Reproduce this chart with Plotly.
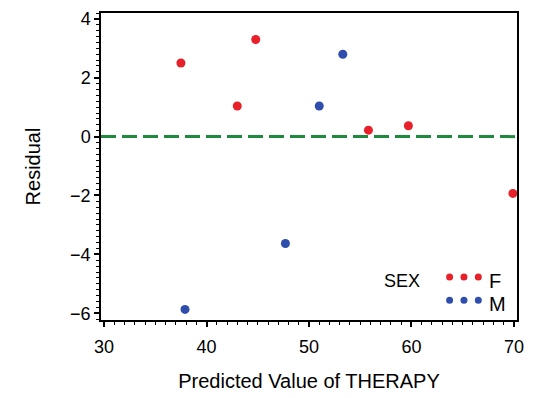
import plotly.graph_objects as go

# Residuals vs predicted THERAPY, grouped by SEX
female_pred = [37.5, 43.0, 44.8, 55.8, 59.7, 69.9]
female_resid = [2.5, 1.04, 3.3, 0.22, 0.37, -1.93]
male_pred = [37.9, 47.7, 51.0, 53.3]
male_resid = [-5.87, -3.63, 1.04, 2.8]

x_ticks = [30, 40, 50, 60, 70]
y_ticks = [-6, -4, -2, 0, 2, 4]

RED = "#E8202A"
BLUE = "#2F4DAD"
GREEN = "#1E8A3E"
FONT = "Liberation Sans, Arial, sans-serif"

fig = go.Figure()

fig.add_trace(go.Scatter(
    x=female_pred, y=female_resid, mode="markers", name="F",
    marker=dict(color=RED, size=9), cliponaxis=False, showlegend=False))
fig.add_trace(go.Scatter(
    x=male_pred, y=male_resid, mode="markers", name="M",
    marker=dict(color=BLUE, size=9), cliponaxis=False, showlegend=False))

# reference line at zero residual
fig.add_shape(type="line", xref="paper", x0=0, x1=1, yref="y", y0=0, y1=0,
              line=dict(color=GREEN, width=3, dash="15px,6px"), layer="below")

# legend: label plus three dots per group
fig.add_annotation(xref="paper", yref="paper", x=0.675, y=0.126, text="SEX",
                   showarrow=False, xanchor="left", yanchor="middle",
                   font=dict(family=FONT, size=18, color="black"))
legend_rows = [("F", RED, 0.14, 0.128), ("M", BLUE, 0.064, 0.052)]
for label, color, y_dot, y_txt in legend_rows:
    for k in range(3):
        xc = 0.838 + k * 0.0345
        fig.add_shape(type="circle", xref="paper", yref="paper",
                      xsizemode="pixel", ysizemode="pixel",
                      xanchor=xc, yanchor=y_dot, x0=-3.5, x1=3.5, y0=-3.5, y1=3.5,
                      fillcolor=color, line=dict(width=0))
    fig.add_annotation(xref="paper", yref="paper", x=0.928, y=y_txt, text=label,
                       showarrow=False, xanchor="left", yanchor="middle",
                       font=dict(family=FONT, size=20, color="black"))

axis_common = dict(
    showgrid=False, zeroline=False, showline=True, linecolor="black",
    linewidth=1.5, mirror=True, ticks="outside", ticklen=5, tickwidth=1.5,
    tickcolor="black", tickfont=dict(family=FONT, size=18, color="black"),
)

fig.update_xaxes(
    range=[29.7, 70.3], tickvals=x_ticks, ticktext=[str(v) for v in x_ticks],
    ticklabelstandoff=5,
    title=dict(text="Predicted Value of THERAPY", standoff=18,
               font=dict(family=FONT, size=20, color="black")),
    minor=dict(ticks="outside", dtick=1, ticklen=3, tickwidth=1.2,
               tickcolor="black", showgrid=False),
    **axis_common)
fig.update_yaxes(
    range=[-6.23, 4.2], tickvals=y_ticks,
    ticktext=[("\u2212" + str(-v)) if v < 0 else str(v) for v in y_ticks],
    title=dict(text="Residual", standoff=24,
               font=dict(family=FONT, size=20, color="black")),
    minor=dict(ticks="outside", dtick=0.2, ticklen=3, tickwidth=1.2,
               tickcolor="black", showgrid=False),
    **axis_common)

fig.update_layout(
    width=533, height=398,
    margin=dict(l=101, r=10, t=9, b=76),
    plot_bgcolor="white", paper_bgcolor="white",
    font=dict(family=FONT, color="black"),
)

fig.write_html("out.html")
